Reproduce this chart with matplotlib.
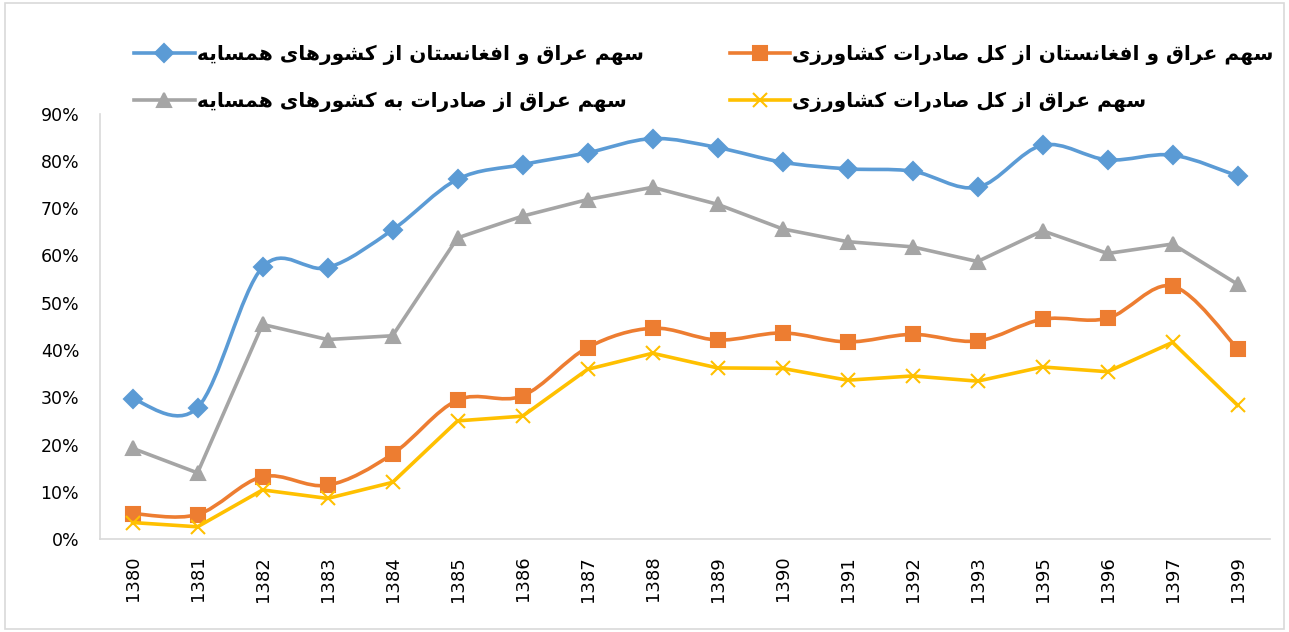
import matplotlib
matplotlib.use('Agg')
import matplotlib.pyplot as plt
import numpy as np
from matplotlib.path import Path
from matplotlib.patches import PathPatch, Rectangle
from matplotlib.lines import Line2D

years = ['1380', '1381', '1382', '1383', '1384', '1385', '1386', '1387', '1388',
         '1389', '1390', '1391', '1392', '1393', '1395', '1396', '1397', '1399']

# shares (fraction)
iraq_afg_neighbors = [0.296, 0.278, 0.575, 0.574, 0.654, 0.761, 0.792, 0.817, 0.847,
                      0.828, 0.797, 0.783, 0.778, 0.744, 0.833, 0.802, 0.812, 0.768]
iraq_afg_agri = [0.054, 0.052, 0.132, 0.114, 0.180, 0.294, 0.303, 0.405, 0.446,
                 0.421, 0.436, 0.417, 0.433, 0.419, 0.465, 0.467, 0.535, 0.403]
iraq_neighbors = [0.192, 0.140, 0.454, 0.422, 0.430, 0.637, 0.683, 0.718, 0.744,
                  0.708, 0.656, 0.629, 0.618, 0.587, 0.652, 0.604, 0.624, 0.539]
iraq_agri = [0.035, 0.026, 0.104, 0.086, 0.120, 0.250, 0.260, 0.359, 0.393,
             0.362, 0.361, 0.336, 0.345, 0.334, 0.364, 0.354, 0.416, 0.283]

labels = ['سهم عراق و افغانستان از کشورهای همسایه',
          'سهم عراق از صادرات به کشورهای همسایه',
          'سهم عراق و افغانستان از کل صادرات کشاورزی',
          'سهم عراق از کل صادرات کشاورزی']

# --- simple Persian shaping (presentation forms + reversal) ---
DUAL = {
    'ب': (0xFE8F, 0xFE90, 0xFE91, 0xFE92), 'ت': (0xFE95, 0xFE96, 0xFE97, 0xFE98),
    'س': (0xFEB1, 0xFEB2, 0xFEB3, 0xFEB4), 'ش': (0xFEB5, 0xFEB6, 0xFEB7, 0xFEB8),
    'ص': (0xFEB9, 0xFEBA, 0xFEBB, 0xFEBC), 'ع': (0xFEC9, 0xFECA, 0xFECB, 0xFECC),
    'غ': (0xFECD, 0xFECE, 0xFECF, 0xFED0), 'ف': (0xFED1, 0xFED2, 0xFED3, 0xFED4),
    'ق': (0xFED5, 0xFED6, 0xFED7, 0xFED8), 'ل': (0xFEDD, 0xFEDE, 0xFEDF, 0xFEE0),
    'م': (0xFEE1, 0xFEE2, 0xFEE3, 0xFEE4), 'ن': (0xFEE5, 0xFEE6, 0xFEE7, 0xFEE8),
    'ه': (0xFEE9, 0xFEEA, 0xFEEB, 0xFEEC), 'ی': (0xFBFC, 0xFBFD, 0xFBFE, 0xFBFF),
    'ک': (0xFB8E, 0xFB8F, 0xFB90, 0xFB91),
}
RIGHT = {
    'ا': (0xFE8D, 0xFE8E), 'د': (0xFEA9, 0xFEAA), 'ر': (0xFEAD, 0xFEAE),
    'ز': (0xFEAF, 0xFEB0), 'و': (0xFEED, 0xFEEE),
}


def shape(s):
    out = []
    for i, ch in enumerate(s):
        prev = s[i - 1] if i > 0 else ''
        nxt = s[i + 1] if i < len(s) - 1 else ''
        jp = prev in DUAL
        if ch in DUAL:
            jn = nxt in DUAL or nxt in RIGHT
            f = DUAL[ch]
            if jp and jn:
                out.append(chr(f[3]))
            elif jp:
                out.append(chr(f[1]))
            elif jn:
                out.append(chr(f[2]))
            else:
                out.append(chr(f[0]))
        elif ch in RIGHT:
            f = RIGHT[ch]
            out.append(chr(f[1]) if jp else chr(f[0]))
        else:
            out.append(ch)
    return ''.join(out[::-1])


def smooth_path(x, y):
    # Excel-like smoothed line: cubic Bezier through every point
    pts = np.column_stack([x, y])
    n = len(pts)
    verts = [pts[0]]
    codes = [Path.MOVETO]
    for i in range(n - 1):
        p0 = pts[i - 1] if i > 0 else pts[i]
        p1 = pts[i]
        p2 = pts[i + 1]
        p3 = pts[i + 2] if i + 2 < n else pts[i + 1]
        c1 = p1 + (p2 - p0) / 6.0
        c2 = p2 - (p3 - p1) / 6.0
        verts += [c1, c2, p2]
        codes += [Path.CURVE4] * 3
    return Path(verts, codes)


plt.rcParams['font.family'] = 'DejaVu Sans'

fig = plt.figure(figsize=(12.89, 6.32), dpi=100)
ax = fig.add_axes([0.0776, 0.147, 0.9077, 0.6734])

x = np.arange(len(years))
series = [
    (iraq_afg_neighbors, '#5B9BD5', 'D', 9, True),
    (iraq_neighbors, '#A5A5A5', '^', 10, False),
    (iraq_afg_agri, '#ED7D31', 's', 10, True),
    (iraq_agri, '#FFC000', 'x', 10, False),
]

handles = []
for (vals, col, mk, ms, smooth), lab in zip(series, labels):
    if smooth:
        ax.add_patch(PathPatch(smooth_path(x, vals), facecolor='none', edgecolor=col,
                               lw=2.6, capstyle='round', joinstyle='round', zorder=2))
        ax.plot(x, vals, linestyle='none', marker=mk, ms=ms, color=col, mew=1.5, zorder=3)
    else:
        ax.plot(x, vals, color=col, lw=2.6, marker=mk, ms=ms, mew=1.5, zorder=3)
    handles.append(Line2D([0], [0], color=col, lw=2.6, marker=mk, ms=ms, mew=1.5))

ax.set_xlim(-0.5, len(years) - 0.5)
ax.set_ylim(0, 0.9)
ax.set_yticks(np.arange(0, 0.91, 0.1))
ax.set_yticklabels([f'{int(round(v * 100))}%' for v in np.arange(0, 0.91, 0.1)], fontsize=12.5)
ax.set_xticks(x)
ax.set_xticklabels(years, rotation=90, fontsize=13)
ax.tick_params(axis='x', length=0, pad=12)
ax.tick_params(axis='y', length=0, pad=15)

for side in ['top', 'right']:
    ax.spines[side].set_visible(False)
for side in ['left', 'bottom']:
    ax.spines[side].set_color('#D9D9D9')
    ax.spines[side].set_linewidth(1.2)

fig.legend(handles, [shape(l) for l in labels], ncol=2, loc='upper left',
           bbox_to_anchor=(0.09, 0.958), frameon=False,
           prop={'family': 'DejaVu Sans', 'weight': 'bold', 'size': 14.5},
           handlelength=3.0, handletextpad=0.1, columnspacing=4.3, labelspacing=1.35)

fig.patches.append(Rectangle((0.004, 0.005), 0.992, 0.99, transform=fig.transFigure,
                             fill=False, edgecolor='#D9D9D9', lw=1.2))

fig.savefig('out.png', dpi=100)
